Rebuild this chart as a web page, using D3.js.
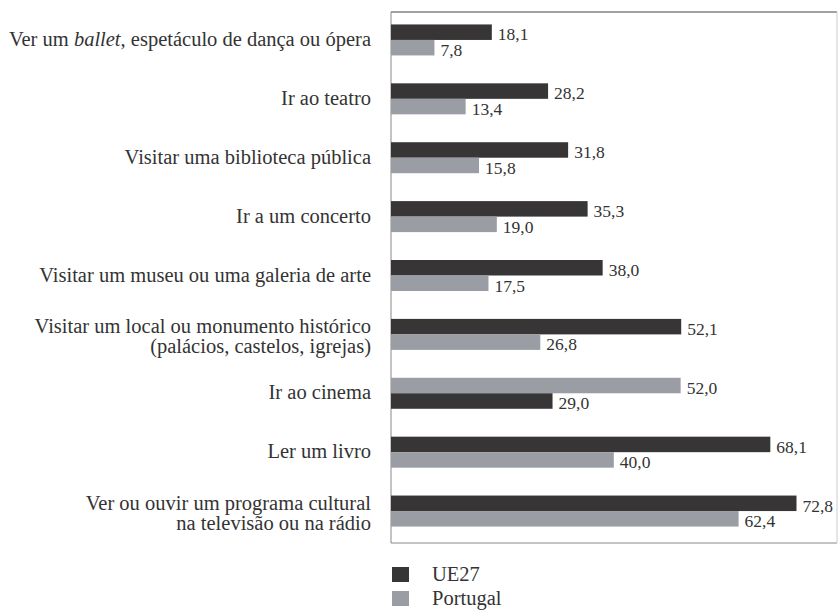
<!DOCTYPE html>
<html><head><meta charset="utf-8">
<script src="https://cdn.jsdelivr.net/npm/d3@7"></script>
<style>body{margin:0;background:#fff}svg{display:block}text{font-family:"Liberation Serif","Times New Roman","DejaVu Serif",serif}</style>
</head><body>
<script>
const categories = [
  ["Ver um |ballet|, espetáculo de dança ou ópera"],
  ["Ir ao teatro"],
  ["Visitar uma biblioteca pública"],
  ["Ir a um concerto"],
  ["Visitar um museu ou uma galeria de arte"],
  ["Visitar um local ou monumento histórico", "(palácios, castelos, igrejas)"],
  ["Ir ao cinema"],
  ["Ler um livro"],
  ["Ver ou ouvir um programa cultural", "na televisão ou na rádio"]
];
const seriesNames = ["UE27", "Portugal"];
const ue27 = [18.1, 28.2, 31.8, 35.3, 38.0, 52.1, 29.0, 68.1, 72.8];
const portugal = [7.8, 13.4, 15.8, 19.0, 17.5, 26.8, 52.0, 40.0, 62.4];
// categories where the Portugal bar is drawn above the UE27 bar
const portugalOnTop = [false, false, false, false, false, false, true, false, false];

(function () {
const W = 838, H = 612;
const colors = {UE27: "#383536", Portugal: "#9b9da4"};

const svg = d3.select("body").append("svg").attr("width", W).attr("height", H);

const mLeft = 391, mRight = 837, mTop = 12, mBottom = 542;
const x = d3.scaleLinear().domain([0, 80.1]).range([mLeft, mLeft + 5.57 * 80.1]);
const y = d3.scaleBand().domain(d3.range(categories.length)).range([mTop, mBottom]);
const barH = 15.5;

// frame
svg.append("line").attr("x1", mLeft).attr("x2", mRight).attr("y1", mTop).attr("y2", mTop).attr("stroke", "#444").attr("stroke-width", 1.2);
svg.append("line").attr("x1", mLeft).attr("x2", mLeft).attr("y1", mTop).attr("y2", mBottom + 1).attr("stroke", "#888").attr("stroke-width", 1);
svg.append("line").attr("x1", mLeft).attr("x2", mRight).attr("y1", mBottom + 1).attr("y2", mBottom + 1).attr("stroke", "#888").attr("stroke-width", 1);
svg.append("line").attr("x1", mRight).attr("x2", mRight).attr("y1", mTop).attr("y2", mBottom + 1).attr("stroke", "#ccc").attr("stroke-width", 1);

const fmt = v => v.toFixed(1).replace(".", ",");

categories.forEach((lines, i) => {
  const c = y(i) + y.bandwidth() / 2 - 1.5;
  const rows = [
    {name: "UE27", v: ue27[i]},
    {name: "Portugal", v: portugal[i]}
  ];
  if (portugalOnTop[i]) rows.reverse();
  rows.forEach((r, k) => {
    const yy = c - barH + k * barH;
    svg.append("rect").attr("x", x(0)).attr("y", yy).attr("width", x(r.v) - x(0)).attr("height", barH)
      .attr("fill", colors[r.name]);
    svg.append("text").attr("x", x(r.v) + 6).attr("y", yy + barH + 0.5)
      .attr("font-size", 17.5).attr("fill", "#333").text(fmt(r.v));
  });
  const t = svg.append("text").attr("text-anchor", "end").attr("font-size", 20.5).attr("fill", "#333");
  const lh = 20;
  const n = lines.length;
  const y0 = c + 6 - (n - 1) * lh / 2 + (n - 1) * 3;
  lines.forEach((ln, j) => {
    const parts = ln.split("|");
    parts.forEach((p, q) => {
      const ts = t.append("tspan").text(p);
      if (q === 0) ts.attr("x", 371).attr("y", y0 + j * lh);
      if (q % 2 === 1) ts.attr("font-style", "italic");
    });
  });
});

// legend
seriesNames.forEach((s, i) => {
  const ly = 567 + i * 24;
  svg.append("rect").attr("x", 392).attr("y", ly).attr("width", 17).attr("height", 15).attr("fill", colors[s]);
  svg.append("text").attr("x", 432).attr("y", ly + 14).attr("font-size", 20.5).attr("fill", "#333").text(s);
});
})();
</script>
</body></html>
